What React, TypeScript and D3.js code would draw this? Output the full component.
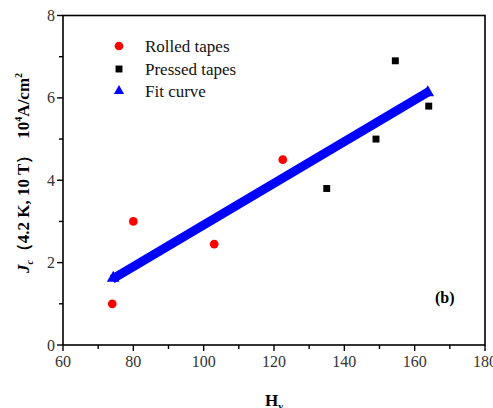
import React from "react";
import * as d3 from "d3";

const rolledX = [74, 80, 103, 122.5];
const rolledY = [1.0, 3.0, 2.45, 4.5];
const pressedX = [135, 149, 154.5, 164];
const pressedY = [3.8, 5.0, 6.9, 5.8];
const fitX = [74, 164];
const fitY = [1.6, 6.15];
const xTicks = [60, 80, 100, 120, 140, 160, 180];
const yTicks = [0, 2, 4, 6, 8];
const legendLabels = ["Rolled tapes", "Pressed tapes", "Fit curve"];

const W = 493, H = 408;
const left = 63, right = 485, top = 15.5, bottom = 345;
const FONT = "Liberation Serif, Times New Roman, Times, DejaVu Serif, serif";

export default function App() {
  const x = d3.scaleLinear().domain([60, 180]).range([left, right]);
  const y = d3.scaleLinear().domain([0, 8]).range([bottom, top]);
  const xMinor = d3.range(60, 181, 10);
  const yMinor = d3.range(0, 8.01, 1);
  const line = d3.line<number>().x((_, i) => x(fitX[i])).y((d) => y(d));
  const tri = d3.symbol().type(d3.symbolTriangle).size(70)();
  const triSmall = d3.symbol().type(d3.symbolTriangle).size(45)();
  const circle = d3.symbol().type(d3.symbolCircle).size(60)();
  const square = d3.symbol().type(d3.symbolSquare).size(48)();

  return (
    <svg width={W} height={H} style={{ position: "absolute", left: 0, top: 0, fontFamily: FONT }}>
      <rect width={W} height={H} fill="#fff" />
      <rect x={left} y={top} width={right - left} height={bottom - top} fill="none" stroke="#000" strokeWidth={1.6} />
      {xMinor.map((v) => (
        <line key={"xm" + v} x1={x(v)} x2={x(v)} y1={bottom} y2={bottom + (v % 20 === 0 ? 6 : 4)} stroke="#000" strokeWidth={1.4} />
      ))}
      {xTicks.map((v) => (
        <text key={"xt" + v} x={x(v)} y={bottom + 22} fontSize={16} textAnchor="middle" fill="#333">{v}</text>
      ))}
      {yMinor.map((v) => (
        <line key={"ym" + v} x1={left} x2={left - (v % 2 === 0 ? 6 : 4)} y1={y(v)} y2={y(v)} stroke="#000" strokeWidth={1.4} />
      ))}
      {yTicks.map((v) => (
        <text key={"yt" + v} x={left - 8} y={y(v) + 5.5} fontSize={16} textAnchor="end" fill="#333">{v}</text>
      ))}
      <path d={line(fitY) || ""} stroke="#0000ff" strokeWidth={9} fill="none" />
      <path d={tri} transform={`translate(${x(fitX[0]) + 1},${y(fitY[0]) - 1})`} fill="#0000ff" />
      <path d={tri} transform={`translate(${x(fitX[1]) - 1},${y(fitY[1]) + 1})`} fill="#0000ff" />
      {rolledX.map((v, i) => (
        <path key={"r" + i} d={circle} transform={`translate(${x(v)},${y(rolledY[i])})`} fill="#ff0000" />
      ))}
      {pressedX.map((v, i) => (
        <path key={"p" + i} d={square} transform={`translate(${x(v)},${y(pressedY[i])})`} fill="#000" />
      ))}
      <path d={circle} transform="translate(119,46)" fill="#ff0000" />
      <path d={square} transform="translate(119,69)" fill="#000" />
      <path d={triSmall} transform="translate(119,91)" fill="#0000ff" />
      {legendLabels.map((t, i) => (
        <text key={t} x={145} y={52 + i * 22.5} fontSize={17} fill="#111">{t}</text>
      ))}
      <text x={435} y={303} fontSize={16} fontWeight="bold">(b)</text>
      <text x={265} y={406} fontSize={17} fontWeight="bold">H<tspan fontSize={10} dy={4}>v</tspan></text>
      <text transform="translate(29,173) rotate(-90)" textAnchor="middle" fontSize={17} fontWeight="bold">
        <tspan fontStyle="italic">J</tspan>
        <tspan fontStyle="italic" fontSize={10} dy={4}>c</tspan>
        <tspan dy={-4}>（4.2 K, 10 T）</tspan>
        <tspan dx={8}>10</tspan>
        <tspan fontSize={10} dy={-7}>4</tspan>
        <tspan dy={7}>A/cm</tspan>
        <tspan fontSize={10} dy={-7}>2</tspan>
      </text>
    </svg>
  );
}
